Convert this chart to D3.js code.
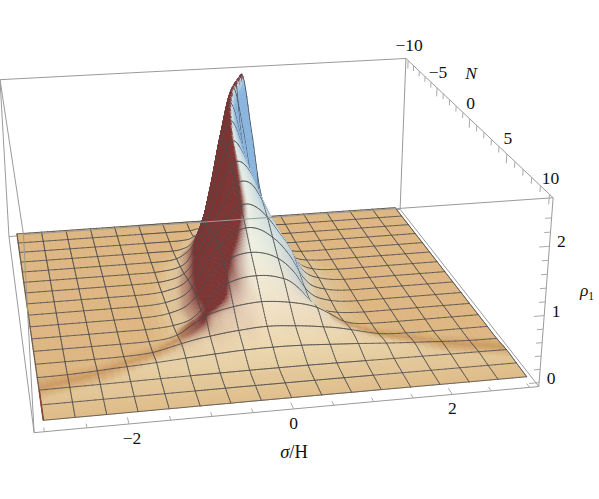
<!DOCTYPE html>
<html>
<head>
<meta charset="utf-8">
<script src="https://cdn.jsdelivr.net/npm/d3@7"></script>
<style>
  html, body { margin: 0; padding: 0; background: #fff; }
  svg { display: block; }
  text { font-family: "Liberation Serif", serif; font-size: 17.5px; fill: #111; }
</style>
</head>
<body>
<svg id="chart" width="599" height="499"></svg>
<script>
// rho_1: one row per N mesh line, columns are the distance from the crest
var nValues = [-10, -8.75, -7.5, -6.25, -5, -3.75, -2.5, -1.25, 0, 1.25, 2.5, 3.75, 5, 6.25, 7.5, 8.75, 10];
var crestSigma = [.5, .3, .19, .13, .1, .1, .1, .08, .04, 0, 0, 0, 0, 0, 0, 0, 0];
var crestDistance = [0, .15, .3, .45, .6, .75, .9, 1.125, 1.3, 1.5, 1.7, 1.875, 2.05, 2.25, 2.625, 3];
var rhoValues = [
  [2.6, 1.65, .5, .05, .03, .03, .03, .03, .03, .03, .03, .03, .03, .03, .03, .03],
  [2.5, 1.8, .78, .15, .05, .03, .03, .03, .03, .03, .03, .03, .03, .03, .03, .03],
  [2.37, 1.82, .95, .25, .07, .035, .03, .03, .03, .03, .03, .03, .03, .03, .03, .03],
  [2.2, 1.83, 1.1, .44, .14, .05, .03, .03, .03, .03, .03, .03, .03, .03, .03, .03],
  [2.0, 1.76, 1.24, .72, .29, .12, .05, .03, .03, .03, .03, .03, .03, .03, .03, .03],
  [1.8, 1.66, 1.28, .87, .47, .18, .08, .04, .03, .03, .03, .03, .03, .03, .03, .03],
  [1.62, 1.53, 1.22, .9, .58, .27, .12, .05, .035, .03, .03, .03, .03, .03, .03, .03],
  [1.4, 1.33, 1.16, .92, .67, .34, .16, .07, .04, .03, .03, .03, .03, .03, .03, .03],
  [1.18, 1.14, 1.03, .87, .64, .34, .16, .07, .04, .03, .03, .03, .03, .03, .03, .03],
  [.95, .93, .87, .76, .58, .32, .16, .07, .04, .03, .03, .03, .03, .03, .03, .03],
  [.75, .74, .7, .63, .48, .27, .13, .06, .04, .03, .03, .03, .03, .03, .03, .03],
  [.52, .51, .49, .46, .42, .36, .26, .1, .05, .035, .03, .03, .03, .03, .03, .03],
  [.32, .315, .3, .285, .265, .24, .215, .16, .11, .06, .04, .035, .03, .03, .03, .03],
  [.19, .19, .185, .18, .17, .16, .15, .135, .12, .105, .09, .08, .07, .055, .035, .03],
  [.075, .075, .075, .074, .073, .072, .07, .068, .066, .064, .062, .06, .058, .056, .054, .05],
  [.05, .05, .05, .05, .05, .049, .049, .048, .048, .047, .046, .046, .045, .045, .044, .043],
  [.04, .04, .04, .04, .04, .039, .039, .039, .038, .038, .038, .037, .037, .036, .036, .035]
];
// where the darker band of the front runs over the flat part
var frontSigma = [.9, 1.2, 1.5, 2.2, 3];
var frontN = [3.4, 4.3, 5, 6.3, 7.2];
var sigmaTicks = [-3, -2.5, -2, -1.5, -1, -.5, 0, .5, 1, 1.5, 2, 2.5, 3];
var sigmaLabels = [-2, 0, 2];
var nTicks = d3.range(-10, 11);
var nLabels = [-10, -5, 0, 5, 10];
var rhoTicks = d3.range(0, 13).map(function(d) { return d / 5; });
var rhoLabels = [0, 1, 2];

var svg = d3.select("#chart");
var sMin = -3.12, sMax = 3.12, nMin = -10.4, nMax = 10.4, zMin = -.06, zMax = 2.68;
var xU = d3.scaleLinear().domain([sMin, sMax]).range([0, 1]);
var yU = d3.scaleLinear().domain([nMin, nMax]).range([0, 1]);
var zU = d3.scaleLinear().domain([zMin, zMax]).range([0, 1]);
var frontScale = d3.scaleLinear().domain(frontSigma).range(frontN);

// box corners in the image, the camera gets fitted to them
var corners = [
  [0, 1, 0, 34, 433], [1, 1, 0, 539, 386], [1, 0, 0, 400, 210], [0, 0, 0, 9, 236],
  [0, 1, 1, 23.5, 234.5], [1, 1, 1, 553, 198], [1, 0, 1, 406, 58], [0, 0, 1, 0, 80]
];

function fitCamera(pts) {
  var A = [], b = [];
  pts.forEach(function(p) {
    var X = p[0], Y = p[1], Z = p[2], u = p[3] / 500, v = p[4] / 500;
    A.push([X, Y, Z, 1, 0, 0, 0, 0, -u * X, -u * Y, -u * Z]); b.push(u);
    A.push([0, 0, 0, 0, X, Y, Z, 1, -v * X, -v * Y, -v * Z]); b.push(v);
  });
  var n = 11, M = [];
  for (var r = 0; r < n; r++) {
    M.push([]);
    for (var c = 0; c < n; c++) M[r].push(d3.sum(A, function(row) { return row[r] * row[c]; }));
    M[r].push(d3.sum(A, function(row, i) { return row[r] * b[i]; }));
  }
  for (var k = 0; k < n; k++) {
    var best = k;
    for (var r2 = k + 1; r2 < n; r2++) if (Math.abs(M[r2][k]) > Math.abs(M[best][k])) best = r2;
    var t = M[k]; M[k] = M[best]; M[best] = t;
    for (var r3 = 0; r3 < n; r3++) {
      if (r3 == k) continue;
      var f = M[r3][k] / M[k][k];
      for (var c2 = k; c2 <= n; c2++) M[r3][c2] -= f * M[k][c2];
    }
  }
  return M.map(function(row, i) { return row[n] / row[i]; });
}
var cam = fitCamera(corners);

function project(s, n, z) {
  var X = xU(s), Y = yU(n), Z = zU(z);
  var w = cam[8] * X + cam[9] * Y + cam[10] * Z + 1;
  return [500 * (cam[0] * X + cam[1] * Y + cam[2] * Z + cam[3]) / w,
          500 * (cam[4] * X + cam[5] * Y + cam[6] * Z + cam[7]) / w];
}

// smooth curve through the table values (plain Hermite), flat at the crest when flatStart is set
function curveAt(xs, ys, x, flatStart) {
  var i = Math.max(0, Math.min(d3.bisectRight(xs, x) - 1, xs.length - 2));
  function slope(k) {
    if (k <= 0) return flatStart ? 0 : (ys[1] - ys[0]) / (xs[1] - xs[0]);
    if (k >= xs.length - 1) return (ys[k] - ys[k - 1]) / (xs[k] - xs[k - 1]);
    return (ys[k + 1] - ys[k - 1]) / (xs[k + 1] - xs[k - 1]);
  }
  var h = xs[i + 1] - xs[i], t = Math.min(1, (x - xs[i]) / h);
  return (2*t*t*t - 3*t*t + 1) * ys[i] + (t*t*t - 2*t*t + t) * h * slope(i)
       + (-2*t*t*t + 3*t*t) * ys[i + 1] + (t*t*t - t*t) * h * slope(i + 1);
}

// render grid: mesh cells are cut finer around the ridge
var subN = 8, meshS = 16, meshN = 16;
var fineS = [-3], meshCol = [true];
d3.range(meshS).forEach(function(m) {
  var cuts = (m >= 5 && m <= 10) ? 20 : 4;
  d3.range(1, cuts + 1).forEach(function(k) {
    fineS.push(-3 + .375 * (m + k / cuts));
    meshCol.push(k == cuts);
  });
});
var fineN = d3.range(meshN * subN + 1).map(function(j) { return -10 + 20 * j / (meshN * subN); });
var grid = fineN.map(function(n) {
  var crest = curveAt(nValues, crestSigma, n);
  var col = crestDistance.map(function(s, c) {
    return curveAt(nValues, rhoValues.map(function(r) { return r[c]; }), n);
  });
  return fineS.map(function(s) { return Math.max(.028, curveAt(crestDistance, col, Math.abs(s - crest), true)); });
});

// colours: height sets the base tone, the slope along sigma pulls it to red or blue
var baseTone = d3.scaleLinear().domain([.03, .05, .09, .2, .5, 1, 2.6])
  .range(["#ddb681", "#e2c596", "#e6cfa3", "#ecd7b0", "#f2e2c8", "#eef0e0", "#d8e8ec"]).clamp(true);
function tone(j, i) {
  var iA = Math.max(i - 1, 0), iB = Math.min(i + 1, fineS.length - 1);
  var rho = grid[j][i], abs = Math.abs(fineS[i]);
  var sl = (grid[j][iB] - grid[j][iA]) / (fineS[iB] - fineS[iA]);
  var band = abs < frontSigma[0] ? 0 : .85 * Math.max(0, 1 - Math.abs(fineN[j] - frontScale(abs)) / 1.1);
  band = Math.max(band, sl < 0 ? .6 * Math.min(1, -sl / .5) * Math.max(0, 1 - rho / .2) : 0);
  var base = d3.interpolateRgb(baseTone(rho), "#c8925a")(band);
  if (sl > 0) return d3.interpolateRgb(base, "#7c3634")(Math.min(1, Math.pow(sl / .55, 1.6)) * Math.min(1, (rho - .028) / .3));
  return d3.interpolateRgb(base, "#8bb6df")(Math.min(1, rho / .3) * Math.min(1, Math.pow(-sl / 3.5, 1.2)));
}

var items = [];
var lastRow = fineN.length - 2;
// camera is in front of the box and left of it: back rows first, right side first.
// order = row, then column from the right; a mesh line waits for the next row's cell so it is not painted over
function orderOf(j, i, after) { return j * 100000 + (fineS.length - i) * 10 + after; }
d3.range(fineN.length - 1).forEach(function(j) {
  d3.range(fineS.length - 2, -1, -1).forEach(function(i) {
    var quad = [project(fineS[i], fineN[j], grid[j][i]), project(fineS[i + 1], fineN[j], grid[j][i + 1]),
                project(fineS[i + 1], fineN[j + 1], grid[j + 1][i + 1]), project(fineS[i], fineN[j + 1], grid[j + 1][i])];
    var later = orderOf(Math.min(j + 1, lastRow), i, 1);
    items.push({ order: orderOf(j, i, 0), pts: quad, fill: tone(j, i) });
    if (j % subN == 0) items.push({ order: later, pts: [quad[0], quad[1]], line: true });
    if (j == lastRow) items.push({ order: later, pts: [quad[2], quad[3]], line: true });
    if (meshCol[i + 1]) items.push({ order: later, pts: [quad[1], quad[2]], line: true });
    if (i == 0) items.push({ order: later, pts: [quad[0], quad[3]], line: true });
  });
});
items.sort(function(a, b) { return d3.ascending(a.order, b.order); });

var boxColor = "#9a9a9a";
function seg(g, a, b, color, w) {
  var p = project(a[0], a[1], a[2]), q = project(b[0], b[1], b[2]);
  g.append("line").attr("x1", p[0]).attr("y1", p[1]).attr("x2", q[0]).attr("y2", q[1])
    .attr("stroke", color || boxColor).attr("stroke-width", w || 1);
}

var back = svg.append("g");
seg(back, [sMin, nMin, zMax], [sMax, nMin, zMax]);
seg(back, [sMin, nMin, zMax], [sMin, nMin, zMin]);
seg(back, [sMax, nMin, zMax], [sMax, nMin, zMin]);
seg(back, [sMin, nMin, zMin], [sMax, nMin, zMin]);
seg(back, [sMin, nMax, zMin], [sMax, nMax, zMin]);
seg(back, [sMin, nMax, zMin], [sMin, nMin, zMin]);
seg(back, [sMax, nMax, zMin], [sMax, nMin, zMin]);

var line = d3.line();
svg.append("g").selectAll("path").data(items).join("path")
  .attr("d", function(d) { return d.line ? line(d.pts) : line(d.pts) + "Z"; })
  .attr("fill", function(d) { return d.line ? "none" : d.fill; })
  .attr("stroke", function(d) { return d.line ? "#4c4c4c" : d.fill; })
  .attr("stroke-width", function(d) { return d.line ? .8 : .75; })
  .attr("stroke-linecap", "round");

var front = svg.append("g");
// rust sliver on the near left edge of the surface
seg(front, [-3, 7.6, .06], [-3, 10, .04], "#8a4434", 1.5);
seg(front, [sMin, nMax, zMax], [sMax, nMax, zMax]);
seg(front, [sMin, nMax, zMax], [sMin, nMax, zMin]);
seg(front, [sMax, nMax, zMax], [sMax, nMax, zMin]);
seg(front, [sMin, nMin, zMax], [sMin, nMax, zMax]);
seg(front, [sMax, nMin, zMax], [sMax, nMax, zMax]);

sigmaTicks.forEach(function(s) {
  seg(front, [s, nMax, zMin], [s, nMax - (sigmaLabels.indexOf(s) >= 0 ? .55 : .35), zMin], "#aaa");
});
nTicks.forEach(function(n) {
  seg(front, [sMax, n, zMax], [sMax, n, zMax - (n % 5 == 0 ? .14 : .09)], "#aaa");
});
rhoTicks.forEach(function(z) {
  seg(front, [sMax, nMax, z], [sMax - (z % 1 == 0 ? .13 : .08), nMax, z], "#aaa");
});

function fmt(v) { return v < 0 ? "\u2212" + Math.abs(v) : String(v); }
var labels = svg.append("g").attr("text-anchor", "middle");
sigmaLabels.forEach(function(s) {
  var p = project(s, nMax, zMin);
  labels.append("text").attr("x", p[0] + (s < 0 ? 3 : 0)).attr("y", p[1] + 20).text(fmt(s));
});
nLabels.forEach(function(n) {
  var p = project(sMax, n, zMax);
  labels.append("text").attr("x", p[0] + 1).attr("y", p[1] - 10).text(fmt(n));
});
rhoLabels.forEach(function(z) {
  var p = project(sMax, nMax, z);
  labels.append("text").attr("x", p[0] + 12).attr("y", p[1] + 1).text(fmt(z));
});

var xLab = labels.append("text").attr("x", 294).attr("y", 458).style("font-size", "18.5px");
xLab.append("tspan").attr("font-style", "italic").text("\u03c3");
xLab.append("tspan").text("/H");
labels.append("text").attr("x", 471).attr("y", 79).attr("font-style", "italic").text("N");
var zLab = labels.append("text").attr("x", 587).attr("y", 296);
zLab.append("tspan").attr("font-style", "italic").text("\u03c1");
zLab.append("tspan").attr("dy", 4).style("font-size", "11.5px").text("1");
</script>
</body>
</html>
